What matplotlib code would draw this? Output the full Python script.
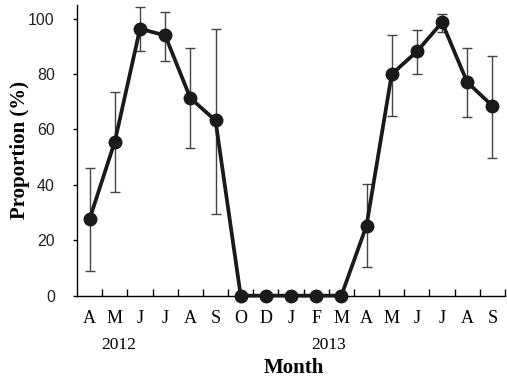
import numpy as np
import matplotlib
matplotlib.use("Agg")
import matplotlib.pyplot as plt
import matplotlib.transforms as mtransforms

months = ["A", "M", "J", "J", "A", "S", "O", "D", "J", "F", "M",
          "A", "M", "J", "J", "A", "S"]
proportion = [27.7, 55.6, 96.3, 93.9, 71.3, 63.2, 0, 0, 0, 0, 0,
              25.3, 79.9, 88.1, 98.6, 77.0, 68.5]
err_low = [9.0, 37.5, 88.3, 84.6, 53.2, 29.4, 0, 0, 0, 0, 0,
           10.5, 65.0, 79.8, 95.1, 64.3, 49.8]
err_high = [46.0, 73.6, 104.1, 102.3, 89.2, 96.2, 0, 0, 0, 0, 0,
            40.3, 94.1, 95.7, 101.8, 89.5, 86.6]
years = ["2012", "2013"]
year_pos = [1.15, 9.48]

x = np.arange(len(months))
y = np.array(proportion)
lo = np.array(err_low)
hi = np.array(err_high)
has_err = hi > 0

fig = plt.figure(figsize=(5.07, 3.8), dpi=100)
ax = fig.add_axes([0.152, 0.222, 0.844, 0.765])

ax.errorbar(x[has_err], y[has_err],
            yerr=[y[has_err] - lo[has_err], hi[has_err] - y[has_err]],
            fmt="none", ecolor="#444444", elinewidth=1, capsize=3.5,
            capthick=1, zorder=2)
ax.plot(x, y, color="#1a1a1a", lw=2.7, marker="o", markersize=9,
        zorder=3, clip_on=False)

ax.set_xlim(-0.5, 16.5)
ax.set_ylim(0, 104.9)
ax.set_yticks([0, 20, 40, 60, 80, 100])
ax.set_xticks(x)
ax.set_xticklabels(months, family="Liberation Serif", fontsize=13)
ax.set_xticks(np.arange(0.5, 16.6, 1), minor=True)
ax.tick_params(axis="x", which="major", length=0, pad=10)
ax.tick_params(axis="x", which="minor", direction="in", length=5, width=1)
ax.tick_params(axis="y", direction="out", length=3, width=1, pad=13,
               labelsize=11.5)
for lab in ax.get_yticklabels():
    lab.set_family("Liberation Sans")
    lab.set_color("#222222")

for s in ["top", "right"]:
    ax.spines[s].set_visible(False)
for s in ["left", "bottom"]:
    ax.spines[s].set_linewidth(1)

trans = mtransforms.blended_transform_factory(ax.transData, fig.transFigure)
for yr, pos in zip(years, year_pos):
    ax.text(pos, 1 - 345 / 380, yr, transform=trans, ha="center", va="center",
            family="Liberation Serif", fontsize=12.5)
ax.text(8.1, 1 - 368 / 380, "Month", transform=trans, ha="center",
        va="center", family="Liberation Serif", fontsize=15,
        fontweight="bold")
fig.text(20 / 507, 1 - 150 / 380, "Proportion (%)", rotation=90,
         ha="center", va="center", family="Liberation Serif",
         fontsize=15, fontweight="bold")

fig.savefig("out.png", dpi=100)
